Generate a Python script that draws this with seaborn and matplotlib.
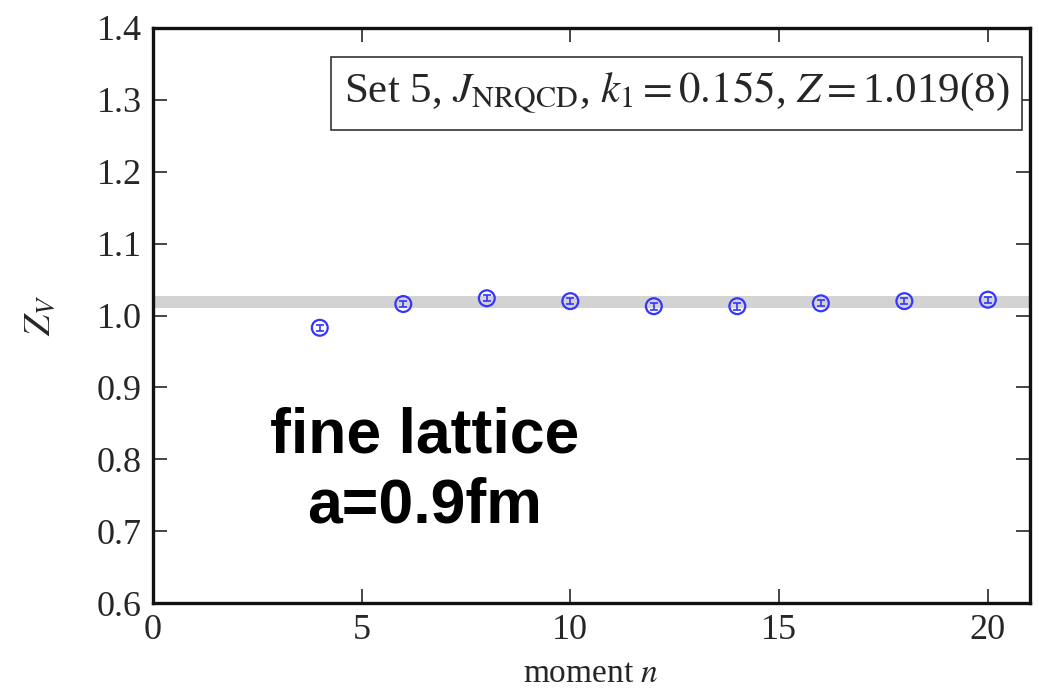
import numpy as np
import pandas as pd
import seaborn as sns
import matplotlib.pyplot as plt

# dados
momentos = [4, 6, 8, 10, 12, 14, 16, 18, 20]
zv = [0.983, 1.016, 1.024, 1.020, 1.013, 1.013, 1.017, 1.020, 1.022]
zv_erro = [0.004, 0.004, 0.004, 0.004, 0.005, 0.005, 0.004, 0.004, 0.004]
z_fit = 1.019
z_fit_erro = 0.008

sns.set_style("ticks")
plt.rcParams['font.family'] = ['Liberation Serif', 'DejaVu Serif']
plt.rcParams['mathtext.fontset'] = 'stix'

df = pd.DataFrame({'n': momentos, 'zv': zv, 'erro': zv_erro})

fig = plt.figure(figsize=(10.39, 6.95), dpi=100)
ax = fig.add_axes([0.147, 0.132, 0.844, 0.828])

# faixa do ajuste
ax.axhspan(z_fit - z_fit_erro, z_fit + z_fit_erro, color='#d3d3d3', lw=0, zorder=1)

cor = '#3535ff'
ax.errorbar(df['n'], df['zv'], yerr=df['erro'], fmt='none', ecolor=cor,
            elinewidth=1.2, capsize=3, capthick=1.2, zorder=3)
sns.scatterplot(data=df, x='n', y='zv', ax=ax, marker='o', s=130,
                facecolor='none', edgecolor=cor, linewidth=1.6, zorder=4)

ax.set_xlim(0, 21)
ax.set_ylim(0.6, 1.4)
ax.set_xticks([0, 5, 10, 15, 20])
ax.set_yticks(np.arange(0.6, 1.41, 0.1))
ax.set_yticklabels([f"{v:.1f}" for v in np.arange(0.6, 1.41, 0.1)])
ax.tick_params(direction='in', top=True, right=True, length=10, width=1.2,
               labelsize=26, pad=8)
for s in ax.spines.values():
    s.set_linewidth(2.4)
    s.set_color('#111111')
    s.set_visible(True)

ax.set_xlabel('moment $n$', fontsize=24, labelpad=8)
ax.set_ylabel('$Z_V$', fontsize=27, labelpad=28)

ax.text(0.977, 0.886, r'Set 5, $J_{\rm NRQCD}$, $k_1 = 0.155$, $Z = $1.019(8)',
        transform=ax.transAxes, ha='right', va='center', fontsize=31,
        bbox=dict(boxstyle='square,pad=0.3', facecolor='white', edgecolor='#333333', lw=1.2))

ax.text(0.31, 0.23, 'fine lattice\na=0.9fm', transform=ax.transAxes, ha='center',
        va='center', fontsize=45, fontweight='bold', color='black',
        family=['Liberation Sans', 'DejaVu Sans'], linespacing=1.25)

fig.savefig('out.png', dpi=100)
